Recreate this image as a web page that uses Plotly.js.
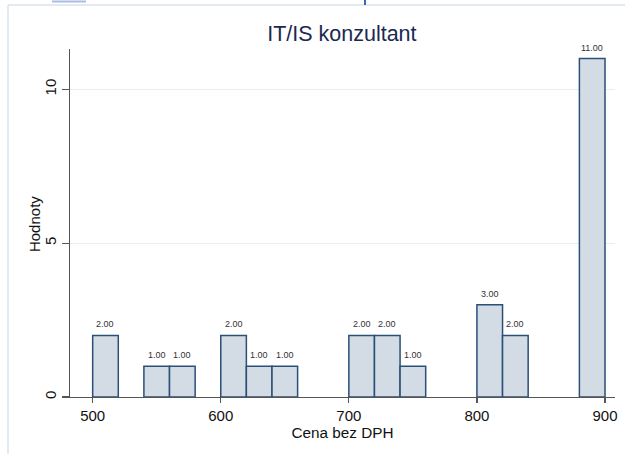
<!DOCTYPE html>
<html>
<head>
<meta charset="utf-8">
<script src="https://cdn.plot.ly/plotly-3.0.1.min.js"></script>
<style>
html,body{margin:0;padding:0;background:#fff;}
#chart{width:625px;height:454px;}
</style>
</head>
<body>
<div id="chart"></div>
<script>
// Bin centres (bins of width 20) of "Cena bez DPH"
const binCenters = [510, 550, 570, 610, 630, 650, 710, 730, 750, 810, 830, 890];
// Counts (Hodnoty)
const counts = [2, 1, 1, 2, 1, 1, 2, 2, 1, 3, 2, 11];
const xTicks = [500, 600, 700, 800, 900];
const yTicks = [0, 5, 10];
const titleText = "IT/IS konzultant";
const xTitle = "Cena bez DPH";
const yTitle = "Hodnoty";

const FONT = "Liberation Sans, Arial, Helvetica, sans-serif";

const trace = {
  type: "bar",
  x: binCenters,
  y: counts,
  marker: {color: "#d3dbe4", line: {color: "#2a4f78", width: 1.5}},
  hoverinfo: "x+y"
};

const annotations = binCenters.map((c, i) => ({
  x: c, y: counts[i], xref: "x", yref: "y",
  text: counts[i].toFixed(2), showarrow: false,
  yanchor: "bottom", yshift: 4,
  font: {family: FONT, size: 9, color: "#333"}
}));
annotations.push({
  x: -0.066, y: 0.497, xref: "paper", yref: "paper", xanchor: "center", yanchor: "middle",
  text: yTitle, textangle: -90, showarrow: false,
  font: {family: FONT, size: 15, color: "#111"}
});

const layout = {
  width: 625, height: 454,
  margin: {l: 70, r: 10, t: 49, b: 57},
  paper_bgcolor: "#fff", plot_bgcolor: "#fff",
  showlegend: false,
  bargap: 0,
  title: {text: titleText, x: 0.547, xanchor: "center", y: 0.927, yanchor: "middle",
          font: {family: FONT, size: 21.5, color: "#1a2a4f"}},
  xaxis: {
    range: [482.3, 907.8], tickvals: xTicks, ticktext: xTicks.map(String),
    ticks: "outside", ticklen: 5, tickcolor: "#555", tickwidth: 1.2,
    showline: true, linecolor: "#555", linewidth: 1.2,
    showgrid: false, zeroline: false,
    tickfont: {family: FONT, size: 15, color: "#111"},
    title: {text: xTitle, font: {family: FONT, size: 15.3, color: "#111"}, standoff: 2}
  },
  yaxis: {
    range: [0, 11.31], tickvals: yTicks, ticktext: yTicks.map(String),
    tickangle: -90,
    ticks: "outside", ticklen: 7, tickcolor: "#555", tickwidth: 1.2,
    showline: true, linecolor: "#555", linewidth: 1.2,
    showgrid: true, gridcolor: "#e6eff0", gridwidth: 1, zeroline: false,
    tickfont: {family: FONT, size: 15, color: "#111"}
  },
  annotations: annotations,
  shapes: [
    {type: "line", xref: "paper", yref: "paper", x0: -0.1138, x1: -0.1138, y0: 1.1264, y1: -0.164,
     line: {color: "#e3ebf0", width: 2}},
    {type: "line", xref: "paper", yref: "paper", x0: -0.1138, x1: 1.02, y0: 1.1264, y1: 1.1264,
     line: {color: "#e3ebf0", width: 2}},
    {type: "line", xref: "paper", yref: "paper", x0: 0.5413, x1: 0.5413, y0: 1.1264, y1: 1.1408,
     line: {color: "#3b66b0", width: 2}},
    {type: "line", xref: "paper", yref: "paper", x0: -0.033, x1: 0.0294, y0: 1.1365, y1: 1.1365,
     line: {color: "#a9bde0", width: 2}}
  ]
};

Plotly.newPlot("chart", [trace], layout, {displayModeBar: false, staticPlot: true});
</script>
</body>
</html>
